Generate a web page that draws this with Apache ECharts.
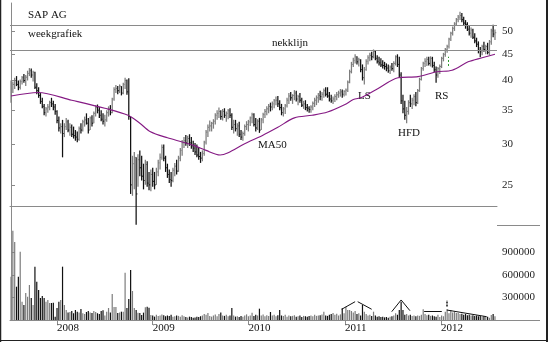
<!DOCTYPE html>
<html><head><meta charset="utf-8">
<script src="https://cdn.jsdelivr.net/npm/echarts@6/dist/echarts.min.js"></script>
<style>html,body{margin:0;padding:0;background:#fff}#c{width:550px;height:342px}</style>
</head><body><div id="c"></div><script>
// weekly bars, SAP AG (mid 2007 - mid 2012)
const priceHigh = [40,39.8,40.5,40.8,40,40.2,40.8,41.2,41,41.8,42.3,42.2,41.8,41.6,39.5,38.8,37.8,37,36,35.5,
36,36.5,37,36.5,36,35,34,33,33.5,33,33.8,33.5,33,32.8,32.5,32,31.8,32.5,33,33.5,
34,34.5,33.8,34,34.2,34.8,35.8,35.9,35.5,35,34.5,34.3,35,35.6,35.8,37,38.8,39.2,39,39.3,
39,39.6,40.5,40.2,40.4,34,28.5,29,28.3,28.7,29.2,28.5,27.5,28,27.8,26.5,26.8,27,26.5,27,
28,28.8,30,30,28.5,27.5,26.8,26.5,27,27.6,28,28.5,29.5,30.6,31,31.3,31.2,31.4,31,30.5,
30.2,30,29.6,29,29.2,30.5,32,32.8,33.4,33.2,33.6,34.5,35,35.4,35,35.2,35.3,34.8,35.2,35.3,
34.5,33.5,33.5,33,33.2,32,31.8,32.8,33.3,33.5,34,34.6,34.5,33.8,33.6,33.8,33.8,34.6,35.2,35.6,
36,36.2,36.4,36.8,37.2,37.3,36.6,36,35.5,36,37,37.8,38,37.6,38.3,38.2,37.5,37.8,37,36.5,
36.6,36,35.6,35.8,36.4,37,37.4,37.8,38.2,38,38.6,38.8,38.8,38,37.5,37.2,37.6,38,38.2,38.5,
38.4,38.3,38.6,40,42,43.5,44.3,45,44.6,44.3,44,43,42.5,44,44.8,45.3,45.5,46,45.7,44.8,
44.5,44.2,43.8,43.5,43.2,43,42.8,43.3,43.6,44.8,45,44.5,41.5,37.5,36.5,35.5,36.6,37.5,37,37.6,
38,38.5,40.5,42.5,43.5,44.2,44.5,44.5,44.6,44.5,43.5,42.6,42.5,43,44.5,45.3,46.3,47,48.5,49.8,
51,52,53,53.7,54.5,54.2,53.3,52.5,52,51.2,50.8,50.5,49.5,48.5,47.7,46.5,47,47.6,47,47.4,
48,50.5,51.4,50.3];
const priceLow = [36.2,37.8,38.5,39,38.3,38.4,39.3,39.6,39,40,40.8,40.5,39.8,38.5,37.6,37,36,35.3,34.2,34,
34.6,35,35.5,35,34.3,33,31.8,31.5,28.3,31,32,31.7,31.2,31,30.8,30.5,30.3,30.5,31.5,31.8,
32.5,32.8,31.5,32,32.5,33,34,34.5,33.8,33.3,32.8,32.5,33.2,34,34.2,34.5,36.5,37.8,37.6,37.8,
37.4,37.6,38.5,37.5,33.5,24,23.8,24.5,20.9,24.8,26,25.5,24.5,25,24.8,24.4,24.3,24.8,24.5,25,
26,26.8,28,27.8,26.5,25.8,25.2,24.8,25.3,26,26.2,26.5,27.8,28.5,29.5,29.8,29.5,29.8,29.4,29,
28.6,28.3,28,27.6,27.8,28.5,30,31,31.8,31.8,32.2,32.8,33.5,33.8,33.5,33.4,33.8,33.2,33.6,33.8,
32,31.5,31.8,31.2,31,30.6,30.5,31.2,32,31.8,32.6,33,32.5,31.8,32,31.6,32,33,33.8,34.2,
34.5,34.8,35,35.3,35.8,35.5,35,34.2,34,34.4,35.4,36,36.5,36,36.6,36.4,35.8,36.2,35.5,35.2,
35,34.8,34.6,34.6,35,35.5,35.8,36.2,36.6,36.5,37,37.2,37,36.4,36.2,36,36.3,36.6,37,37.2,
37,37.2,37.4,38,39.5,41.3,42.5,43.2,43,42.6,41.5,40,39.3,41.8,43,43.6,43.8,44.2,43.8,43.2,
42.8,42.5,42.2,42,41.7,41.4,41.2,41.8,41.5,42.8,42.5,40.5,36,34.5,33.5,33,34.3,35.5,35.2,35.8,
35.6,36,38,40,41.8,42.5,42.7,42.8,42.6,42.4,41.5,39.6,40.5,41.2,42.3,43.6,44.5,45.3,46.2,47.8,
49,50,51.2,52,52.5,52,51.3,50.5,50,49,48.5,48.2,47.3,46.5,45.2,44.4,44.8,45.5,45,45,
44.8,47,48.6,48];
const priceClose = [38.5,39.3,40,39.3,38.8,39.8,40.5,40,40.6,41.3,41.8,41,41.5,38.8,38.2,37.4,36.4,35.6,34.6,35.2,
35.5,36.2,36,35.5,34.8,33.4,32.3,32.5,31.5,32.5,33.2,32,32.4,31.4,31.2,31,30.7,32.2,32,33.2,
33.5,33,32,33.8,33,34.5,35.4,35,34.2,33.6,33.3,33.5,34.6,35.2,34.6,36.8,38.4,38.6,38.2,39,
37.8,39.3,40,38,34,25,27.5,28.3,24,28,27,26,25.5,27.4,25.2,25,26.2,25.4,25,26.5,
27.6,28.3,29.6,28.2,27,26.2,25.6,25.5,26.7,27.2,26.6,28.2,29.2,30.2,30.5,30.2,30.8,30.2,29.8,29.5,
29,28.6,28.4,28.2,28.8,30.3,31.7,32.4,32.6,33,33.3,34.2,34.5,34.8,34,34.8,34.2,34.5,34.9,34.2,
32.4,32.8,32.2,32.6,31.4,31,31.5,32.5,32.8,33.2,33.8,34.3,32.8,32.3,33.3,32,33.5,34.3,34.8,35.2,
35.6,35.5,36,36.5,36.6,36,35.4,34.6,35.2,35.7,36.6,37.3,37,37.4,37.8,36.8,37.2,36.6,35.8,36,
35.4,35.3,35.1,35.5,36.1,36.6,37,37.4,37.2,37.6,38.2,37.6,37.3,36.8,36.5,36.8,37.2,37.5,37.8,38,
37.6,38.1,38.3,39.7,41.6,43,43.8,44.5,43.5,43.9,42,40.5,42,43.6,44.3,44.8,44.5,45.6,44.2,43.6,
43.3,42.9,42.8,42.6,42.3,41.8,42.5,42.2,43.2,44.5,43,41,36.5,35.2,34.2,34.8,36.2,36,36.6,37.2,
36.2,38.2,40.2,42.2,43.2,43.6,44,43.2,44.2,42.8,42,41,42.2,42.6,44.2,45,46,46.6,48.2,49.5,
50.6,51.6,52.6,53.2,53.6,52.6,51.8,51.5,50.4,49.5,50.2,48.6,47.8,47.1,45.8,45.5,46.6,46,46.6,45.4,
47.6,50,49.3,49.6];
// weekly volume, thousands of shares
const volumeK = [577,1190,1040,444,578,911,244,200,360,310,467,293,200,711,511,400,293,320,293,244,
267,227,227,231,44,160,244,267,711,200,133,100,107,120,90,133,110,100,147,90,
80,107,120,100,93,120,107,90,80,120,130,60,110,160,100,347,173,173,93,100,
111,111,631,160,280,667,387,160,133,98,93,67,98,169,178,164,67,60,45,70,
55,60,75,65,50,60,55,70,45,50,60,55,45,65,50,40,35,45,40,30,
35,45,40,50,60,80,70,93,55,45,60,75,50,80,100,60,55,70,50,60,
160,60,45,50,40,55,45,60,75,50,60,98,55,70,60,151,60,75,50,65,
55,107,60,70,50,65,133,60,55,70,45,60,50,55,65,45,50,60,40,55,
50,45,55,60,50,70,55,60,65,75,111,60,55,70,80,95,70,85,60,75,
156,90,178,133,133,120,100,120,80,90,60,200,110,80,60,70,55,111,60,45,
50,40,45,35,40,30,45,50,60,90,70,133,244,133,70,80,60,70,55,60,
50,60,55,70,142,80,65,70,55,60,50,45,70,40,60,50,111,142,90,133,
100,111,93,95,80,85,70,80,65,70,60,65,55,60,50,55,45,50,40,45,
30,67,80,50];
// 50-week moving average: [week index], [value]
const maWeek  = [0,14.7,33,51,63.6,70,75.5,85,93.5,100,106,113.6,118,127,136.4,145,154,163.6,172,181.5,186,190.8,199.5,210.3,221.2,231.5,239.7,248.4,256,263];
const maValue = [37.3,37.9,36.6,35.3,34.2,33,31.8,30.9,30.3,29.8,29.2,28.6,28.9,30.1,31.2,32.4,33.8,34.2,34.7,35.9,36.7,37.1,38.6,40.5,40.7,41.6,41.9,43.5,44.3,45];
const priceTicks = [25,30,35,40,45,50];
const volumeTicks = [300000,600000,900000];
const yearLabels = ['2008','2009','2010','2011','2012'];
const yearStartWeek = [25,77,129,181.5,233.7];
const necklineLevel = 45.9;
const resistanceLevel = 51.4;
// volume trend annotations: [week, volume] pairs
const volSegments = [
  [[179.7,143000],[187,244000]], [[188.4,244000],[196,143000]],
  [[206.9,111000],[212,267000]], [[212,267000],[216.8,124000]],
  [[224.5,111000],[234.1,111000]],
  [[236.8,133000],[258.5,44000]]
];
const volMarkWeek = 236.8, volMarkRange = [180000,265000];
const priceMarkWeek = 237.5, priceMarkRange = [42.7,44.5];

const FONT = '"Liberation Serif", "DejaVu Serif", serif';
const BLACK = '#111', GRAY = '#7d7d7d', AXIS = '#8a8a8a';
const bars = priceClose.map((c, i) => [i, priceLow[i], priceHigh[i], c, (i > 0 && c < priceClose[i-1]) ? 1 : 0]);
const vols = volumeK.map((v, i) => [i, v * 1000, bars[i][4]]);

const chart = echarts.init(document.getElementById('c'));
const vline = (x, y1, y2, col, lw) => ({type:'line', shape:{x1:x, y1:y1, x2:x, y2:y2}, style:{stroke:col, lineWidth:lw}});

function priceRender(params, api) {
  const i = api.value(0);
  const lo = api.coord([i, api.value(1)]);
  const hi = api.coord([i, api.value(2)]);
  const cl = api.coord([i, api.value(3)]);
  const col = api.value(4) ? BLACK : GRAY;
  const x = lo[0];
  return {type:'group', children:[
    vline(x, lo[1], hi[1], col, 1.25),
    {type:'line', shape:{x1:x, y1:cl[1], x2:x + 1.3, y2:cl[1]}, style:{stroke:col, lineWidth:1}}
  ]};
}
function volRender(params, api) {
  const i = api.value(0);
  const b = api.coord([i, 0]);
  const t = api.coord([i, api.value(1)]);
  const col = api.value(2) ? BLACK : GRAY;
  return vline(b[0], b[1], t[1], col, 1.2);
}
const txt = (text, x, y, align) => ({type:'text', silent:true, style:{text:text, x:x, y:y, fill:'#111', font:'11px ' + FONT, textAlign:align || 'left', textVerticalAlign:'middle', align:align || 'left', verticalAlign:'middle'}});
const hl = (x1, x2, y, col) => ({type:'line', silent:true, shape:{x1:x1, y1:y, x2:x2, y2:y}, style:{stroke:col, lineWidth:1}});

const option = {
  animation: false,
  backgroundColor: '#fff',
  grid: [
    {left: 10, top: 3, width: 487, height: 203.7},
    {left: 10, top: 207, width: 487, height: 113}
  ],
  xAxis: [
    {type:'value', gridIndex:0, min:-0.55, max:264.1, axisLine:{show:true, onZero:false, lineStyle:{color:AXIS}}, axisTick:{show:false}, axisLabel:{show:false}, splitLine:{show:false}},
    {type:'value', gridIndex:1, min:-0.55, max:264.1, axisLine:{show:true, onZero:false, lineStyle:{color:AXIS}},
      axisTick:{show:true, customValues:yearStartWeek, length:5, lineStyle:{color:AXIS}},
      axisLabel:{show:true, customValues:yearStartWeek, align:'left', margin:3, fontFamily:FONT, fontSize:11, color:'#111',
        formatter: v => { let k = 0, d = 1e9; yearStartWeek.forEach((w, j) => { if (Math.abs(w - v) < d) { d = Math.abs(w - v); k = j; } }); return yearLabels[k]; }},
      splitLine:{show:false}}
  ],
  yAxis: [
    {type:'log', gridIndex:0, position:'right', min:22.66, max:56.7, axisLine:{show:true, lineStyle:{color:AXIS}},
      axisTick:{show:true, customValues:priceTicks, length:4, lineStyle:{color:AXIS}},
      axisLabel:{show:true, customValues:priceTicks, margin:5, fontFamily:FONT, fontSize:11, color:'#222'},
      splitLine:{show:false}},
    {type:'value', gridIndex:1, position:'right', min:0, max:1506667, axisLine:{show:true, lineStyle:{color:AXIS}},
      axisTick:{show:true, customValues:volumeTicks, length:4, lineStyle:{color:AXIS}},
      axisLabel:{show:true, customValues:volumeTicks, margin:5, fontFamily:FONT, fontSize:11, color:'#222', formatter: v => String(Math.round(v))},
      splitLine:{show:false}}
  ],
  series: [
    {type:'custom', name:'SAP AG', xAxisIndex:0, yAxisIndex:0, data:bars, encode:{x:0, y:[1,2]}, clip:false, renderItem:priceRender, z:2},
    {type:'line', name:'MA50', xAxisIndex:0, yAxisIndex:0, data:maWeek.map((w, k) => [w, maValue[k]]), smooth:0.3, symbol:'none',
      lineStyle:{color:'#851a84', width:1.1}, z:3,
      markLine:{silent:true, symbol:'none', label:{show:false},
        data:[
          {yAxis:resistanceLevel, lineStyle:{color:'#8a8a8a', width:1, type:'solid'}},
          {yAxis:necklineLevel, lineStyle:{color:'#8a8a8a', width:1, type:'solid'}},
          [{coord:[priceMarkWeek, priceMarkRange[0]], lineStyle:{color:'#2e9a2e', width:1, type:[2,2]}}, {coord:[priceMarkWeek, priceMarkRange[1]]}]
        ]}},
    {type:'custom', name:'Volume', xAxisIndex:1, yAxisIndex:1, data:vols, encode:{x:0, y:1}, renderItem:volRender, z:2,
      markLine:{silent:true, symbol:'none', label:{show:false}, lineStyle:{color:'#111', width:1, type:'solid'},
        data: volSegments.map(s => [{coord:s[0]}, {coord:s[1]}]).concat([
          [{coord:[volMarkWeek, volMarkRange[0]], lineStyle:{color:'#111', width:1.5, type:[2,1]}}, {coord:[volMarkWeek, volMarkRange[1]]}]
        ])}}
  ],
  graphic: [
    txt('SAP AG', 28, 15), txt('weekgrafiek', 28, 34),
    txt('nekklijn', 290, 43, 'center'), txt('MA50', 258, 145),
    txt('LS', 358, 96), txt('HFD', 398, 133), txt('RS', 435, 96),
    hl(497, 540, 225.5, AXIS), hl(497, 540, 320.5, AXIS),
    vline(0.5, 0, 342, '#222', 1.5), vline(547, 0, 342, '#222', 2), hl(0, 548, 340.5, '#222')
  ]
};
chart.setOption(option);
</script></body></html>
